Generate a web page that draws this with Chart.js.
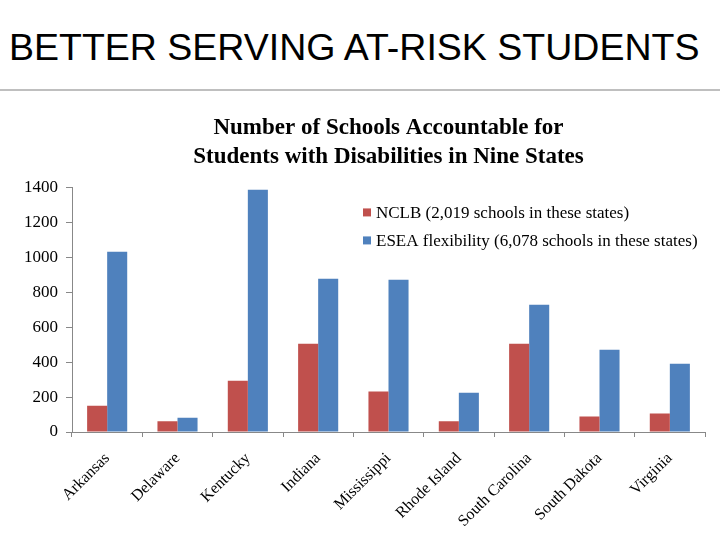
<!DOCTYPE html>
<html>
<head>
<meta charset="utf-8">
<script src="https://cdn.jsdelivr.net/npm/chart.js@4.4.1/dist/chart.umd.min.js"></script>
<style>
body { margin: 0; width: 720px; height: 540px; background: #fff; position: relative; overflow: hidden; }
#heading { position: absolute; left: 9px; top: 29px; font-family: "Liberation Sans", Arial, sans-serif; font-size: 37.5px; line-height: 1; color: #000; white-space: nowrap; }
#rule { position: absolute; left: 0; top: 89px; width: 720px; height: 2px; background: #bfbfbf; }
#wrap { position: absolute; left: 0; top: 95px; width: 720px; height: 445px; }
</style>
</head>
<body>
<div id="heading">BETTER SERVING AT-RISK STUDENTS</div>
<div id="rule"></div>
<div id="wrap"><canvas id="myChart"></canvas></div>
<script>
const states = ['Arkansas', 'Delaware', 'Kentucky', 'Indiana', 'Mississippi', 'Rhode Island', 'South Carolina', 'South Dakota', 'Virginia'];
const nclb = [150, 61, 294, 505, 232, 61, 505, 89, 106];
const esea = [1032, 82, 1387, 877, 872, 225, 729, 471, 391];
const seriesNames = ['NCLB (2,019 schools in these states)', 'ESEA flexibility (6,078 schools in these states)'];
const titleLines = ['Number of Schools Accountable for', 'Students with Disabilities in Nine States'];
const yTicks = [0, 200, 400, 600, 800, 1000, 1200, 1400];

const serif = '"Liberation Serif", "Times New Roman", serif';

// legend drawn inside the plot, top right
const insideLegend = {
    id: 'insideLegend',
    afterDraw(chart) {
        const c = chart.ctx;
        const area = chart.chartArea;
        c.save();
        c.font = '17px ' + serif;
        c.textBaseline = 'middle';
        chart.data.datasets.forEach((ds, i) => {
            const x = area.left + 291;
            const y = area.top + 26 + i * 28;
            c.fillStyle = ds.backgroundColor;
            c.fillRect(x, y - 5, 8, 8);
            c.fillStyle = '#000';
            c.fillText(ds.label, x + 13, y);
        });
        c.restore();
    }
};

const ctx = document.getElementById('myChart');
const myChart = new Chart(ctx, {
    type: 'bar',
    data: {
        labels: states,
        datasets: [{
            label: seriesNames[0],
            data: nclb,
            backgroundColor: '#C0504D'
        }, {
            label: seriesNames[1],
            data: esea,
            backgroundColor: '#4F81BD'
        }]
    },
    options: {
        responsive: true,
        maintainAspectRatio: false,
        animation: false,
        layout: { padding: { left: 0, right: 15, top: 0, bottom: 0 } },
        datasets: {
            bar: { barPercentage: 1.0, categoryPercentage: 0.57 }
        },
        plugins: {
            legend: { display: false },
            tooltip: { enabled: false },
            title: {
                display: true,
                text: titleLines,
                fullSize: false,
                color: '#000',
                font: { family: serif, size: 23, weight: 'bold', lineHeight: 1.27 },
                padding: { top: 18, bottom: 16 }
            }
        },
        scales: {
            x: {
                grid: { display: true, drawOnChartArea: false, offset: true, tickLength: 5, color: '#888' },
                border: { color: '#888' },
                ticks: { color: '#000', font: { family: serif, size: 16 }, minRotation: 45, maxRotation: 45, padding: 12 },
                afterFit: (s) => { s.height = 108; }
            },
            y: {
                min: 0,
                max: 1400,
                afterBuildTicks: (s) => { s.ticks = yTicks.map(v => ({ value: v })); },
                grid: { display: true, drawOnChartArea: false, tickLength: 6, color: '#888' },
                border: { color: '#888' },
                ticks: { color: '#000', font: { family: serif, size: 17 }, padding: 8, callback: (v) => String(v) },
                afterFit: (s) => { s.width = 72; }
            }
        }
    },
    plugins: [insideLegend]
});
</script>
</body>
</html>
